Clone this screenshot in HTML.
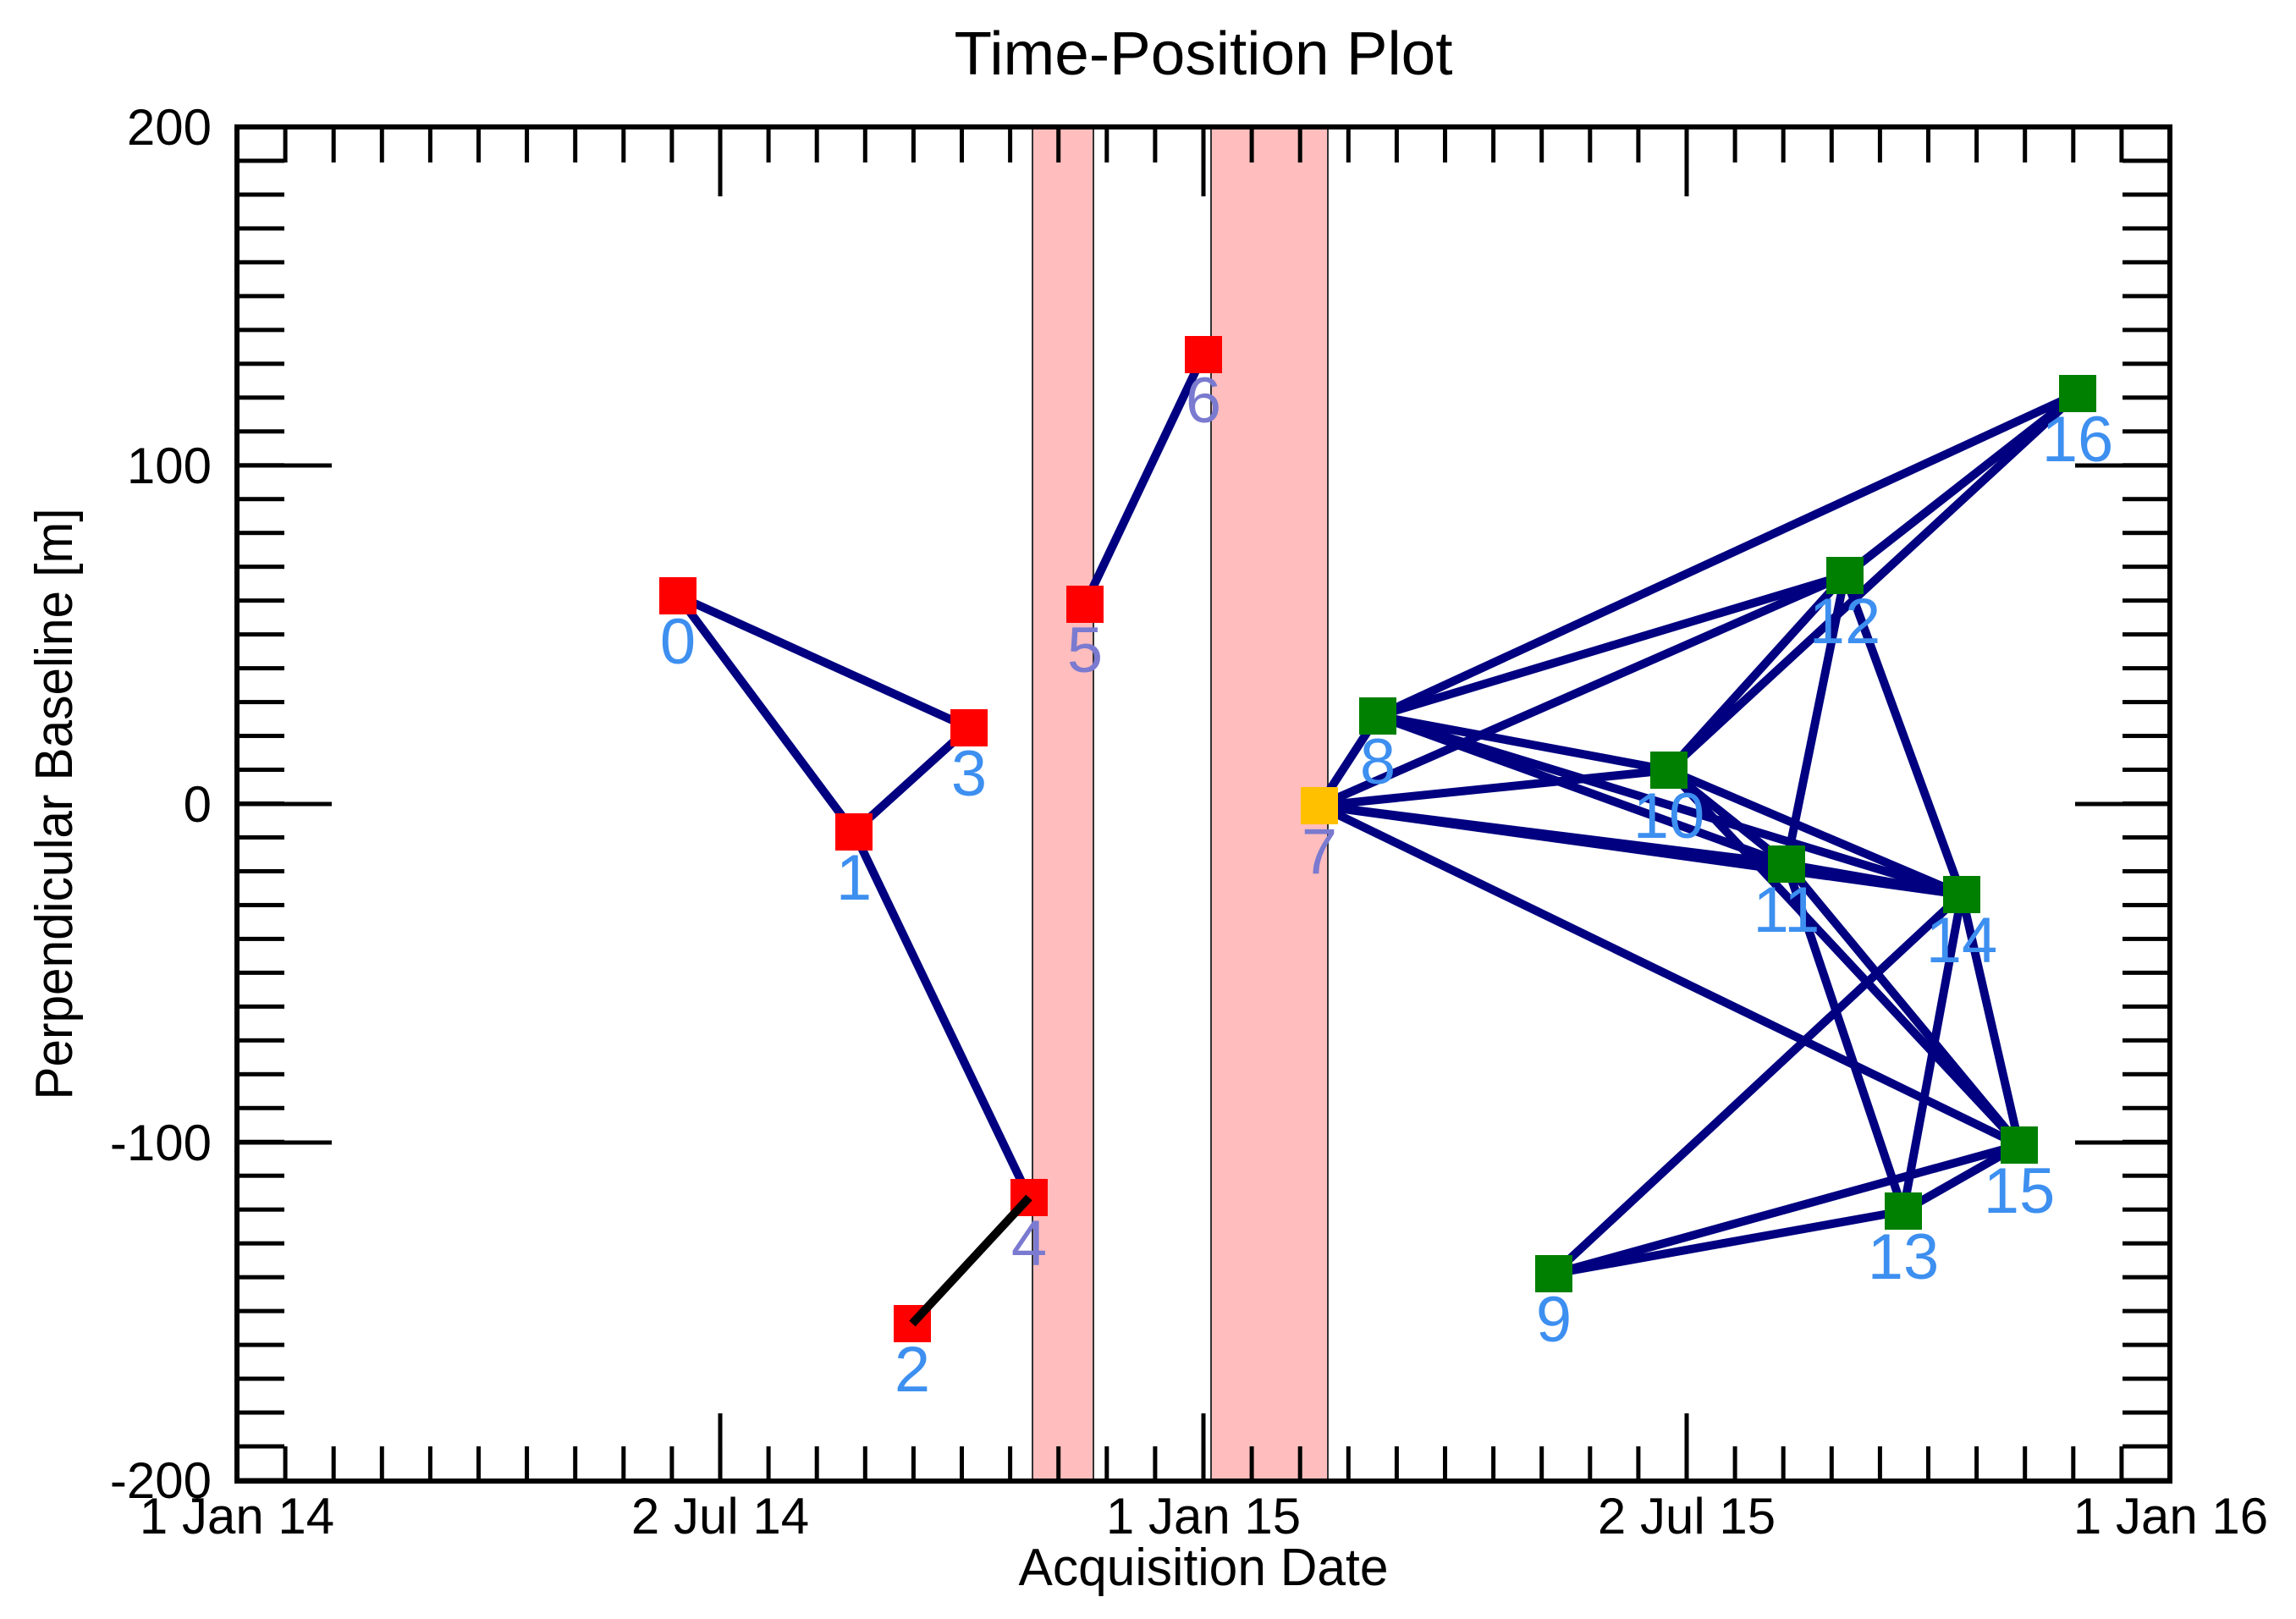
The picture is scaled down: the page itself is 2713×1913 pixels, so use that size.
<!DOCTYPE html>
<html><head><meta charset="utf-8"><style>
html,body{margin:0;padding:0;background:#fff;}
svg{display:block;}
text{font-family:"Liberation Sans",sans-serif;}
</style></head><body>
<svg width="2713" height="1913" viewBox="0 0 2713 1913" xmlns="http://www.w3.org/2000/svg">
<defs>
<pattern id="ly" patternUnits="userSpaceOnUse" x="0" y="150" width="2713" height="39.975"><rect x="0" y="-2.5" width="2713" height="5" fill="#000"/><rect x="0" y="37.475" width="2713" height="5" fill="#000"/></pattern>
<pattern id="lx" patternUnits="userSpaceOnUse" x="280" y="0" width="57.1" height="1913"><rect x="-2.5" y="0" width="5" height="1913" fill="#000"/><rect x="54.6" y="0" width="5" height="1913" fill="#000"/></pattern>
</defs>
<rect width="2713" height="1913" fill="#fff"/>
<rect x="1220" y="150" width="72" height="1599" fill="#ffbdbd" stroke="#333" stroke-width="2"/>
<rect x="1431" y="150" width="138" height="1599" fill="#ffbdbd" stroke="#333" stroke-width="2"/>
<rect x="280" y="150" width="56" height="1599" fill="url(#ly)"/>
<rect x="2508" y="150" width="56" height="1599" fill="url(#ly)"/>
<rect x="280" y="150" width="2284" height="42" fill="url(#lx)"/>
<rect x="280" y="1709" width="2284" height="42" fill="url(#lx)"/>
<g stroke="#000" stroke-width="5">
<line x1="280" y1="550" x2="392" y2="550"/><line x1="280" y1="950" x2="392" y2="950"/><line x1="280" y1="1350" x2="392" y2="1350"/>
<line x1="2452" y1="550" x2="2564" y2="550"/><line x1="2452" y1="950" x2="2564" y2="950"/><line x1="2452" y1="1350" x2="2564" y2="1350"/>
<line x1="851" y1="150" x2="851" y2="232"/><line x1="1422" y1="150" x2="1422" y2="232"/><line x1="1993" y1="150" x2="1993" y2="232"/>
<line x1="851" y1="1749" x2="851" y2="1670"/><line x1="1422" y1="1749" x2="1422" y2="1670"/><line x1="1993" y1="1749" x2="1993" y2="1670"/>
</g>
<rect x="280" y="150" width="2284" height="1600" fill="none" stroke="#000" stroke-width="6"/>
<g stroke="#000080" stroke-width="10" stroke-linecap="round">
<line x1="801" y1="704" x2="1145" y2="860"/>
<line x1="801" y1="704" x2="1009" y2="983"/>
<line x1="1009" y1="983" x2="1145" y2="860"/>
<line x1="1009" y1="983" x2="1216" y2="1415"/>
<line x1="1282" y1="714" x2="1422" y2="419"/>
<line x1="1559" y1="952" x2="1628" y2="846"/>
<line x1="1559" y1="952" x2="1972" y2="910"/>
<line x1="1559" y1="952" x2="2111" y2="1021"/>
<line x1="1559" y1="952" x2="2318" y2="1057"/>
<line x1="1559" y1="952" x2="2386" y2="1353"/>
<line x1="1559" y1="952" x2="2180" y2="680"/>
<line x1="1628" y1="846" x2="2455" y2="465"/>
<line x1="1628" y1="846" x2="2180" y2="680"/>
<line x1="1628" y1="846" x2="1972" y2="910"/>
<line x1="1628" y1="846" x2="2111" y2="1021"/>
<line x1="1628" y1="846" x2="2318" y2="1057"/>
<line x1="1972" y1="910" x2="2180" y2="680"/>
<line x1="1972" y1="910" x2="2455" y2="465"/>
<line x1="1972" y1="910" x2="2111" y2="1021"/>
<line x1="1972" y1="910" x2="2318" y2="1057"/>
<line x1="1972" y1="910" x2="2386" y2="1353"/>
<line x1="2180" y1="680" x2="2455" y2="465"/>
<line x1="2180" y1="680" x2="2111" y2="1021"/>
<line x1="2180" y1="680" x2="2318" y2="1057"/>
<line x1="2111" y1="1021" x2="2318" y2="1057"/>
<line x1="2111" y1="1021" x2="2386" y2="1353"/>
<line x1="2111" y1="1021" x2="2249" y2="1431"/>
<line x1="2318" y1="1057" x2="1836" y2="1505"/>
<line x1="2318" y1="1057" x2="2249" y2="1431"/>
<line x1="2318" y1="1057" x2="2386" y2="1353"/>
<line x1="2386" y1="1353" x2="1836" y2="1505"/>
<line x1="2386" y1="1353" x2="2249" y2="1431"/>
<line x1="2249" y1="1431" x2="1836" y2="1505"/>
</g>
<g fill="#ff0000">
<rect x="779" y="682" width="44" height="44"/>
<rect x="987" y="961" width="44" height="44"/>
<rect x="1056" y="1542" width="44" height="44"/>
<rect x="1123" y="838" width="44" height="44"/>
<rect x="1194" y="1393" width="44" height="44"/>
<rect x="1260" y="692" width="44" height="44"/>
<rect x="1400" y="397" width="44" height="44"/>
</g>
<line x1="1078" y1="1564" x2="1216" y2="1415" stroke="#000" stroke-width="10"/>
<rect x="1537" y="930" width="44" height="44" fill="#ffc000"/>
<g fill="#008000">
<rect x="1606" y="824" width="44" height="44"/>
<rect x="1814" y="1483" width="44" height="44"/>
<rect x="1950" y="888" width="44" height="44"/>
<rect x="2089" y="999" width="44" height="44"/>
<rect x="2158" y="658" width="44" height="44"/>
<rect x="2227" y="1409" width="44" height="44"/>
<rect x="2296" y="1035" width="44" height="44"/>
<rect x="2364" y="1331" width="44" height="44"/>
<rect x="2433" y="443" width="44" height="44"/>
</g>
<g font-size="76" fill="#3d8ff0" text-anchor="middle">
<text x="801" y="784">0</text>
<text x="1009" y="1063">1</text>
<text x="1078" y="1644">2</text>
<text x="1145" y="940">3</text>
<text x="1216" y="1495" fill="#7a7ad0">4</text>
<text x="1282" y="794" fill="#7a7ad0">5</text>
<text x="1422" y="499" fill="#7a7ad0">6</text>
<text x="1559" y="1032" fill="#7a7ad0">7</text>
<text x="1628" y="926">8</text>
<text x="1836" y="1585">9</text>
<text x="1972" y="990">10</text>
<text x="2111" y="1101">11</text>
<text x="2180" y="760">12</text>
<text x="2249" y="1511">13</text>
<text x="2318" y="1137">14</text>
<text x="2386" y="1433">15</text>
<text x="2455" y="545">16</text>
</g>
<g font-size="60" fill="#000">
<g text-anchor="end">
<text x="250" y="171">200</text>
<text x="250" y="571">100</text>
<text x="250" y="971">0</text>
<text x="250" y="1371">-100</text>
<text x="250" y="1770">-200</text>
</g>
<g text-anchor="middle">
<text x="280" y="1812">1 Jan 14</text>
<text x="851" y="1812">2 Jul 14</text>
<text x="1422" y="1812">1 Jan 15</text>
<text x="1993" y="1812">2 Jul 15</text>
<text x="2565" y="1812">1 Jan 16</text>
</g>
</g>
<text x="1422" y="88" font-size="72" text-anchor="middle" textLength="589" lengthAdjust="spacingAndGlyphs">Time-Position Plot</text>
<text x="1422" y="1873" font-size="62" text-anchor="middle" textLength="437" lengthAdjust="spacingAndGlyphs">Acquisition Date</text>
<text transform="translate(85,950) rotate(-90)" font-size="62" text-anchor="middle" textLength="699" lengthAdjust="spacingAndGlyphs">Perpendicular Baseline [m]</text>
</svg>
</body></html>
